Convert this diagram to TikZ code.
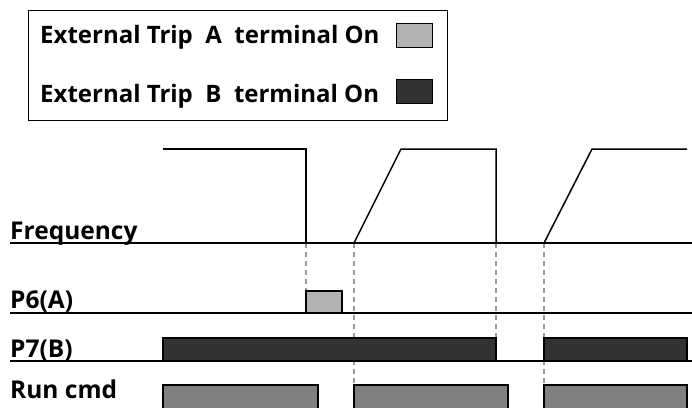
\documentclass[tikz,border=0pt]{standalone}
\usepackage{fontspec}
\setmainfont{Open Sans}
\begin{document}
\begin{tikzpicture}[x=1pt,y=-1pt,
  axis/.style={line width=2pt},
  wave/.style={line width=1.5pt,line join=miter},
  guide/.style={draw=gray!80,line width=1.2pt,dash pattern=on 5pt off 4pt},
  boxA/.style={draw=black,line width=1.3pt,fill=black!30},
  boxB/.style={draw=black,line width=1.3pt,fill=black!80},
  boxR/.style={draw=black,line width=1.3pt,fill=black!50},
  leg/.style={anchor=base west,inner sep=0pt,font=\fontsize{24}{28}\selectfont\bfseries},
  lab/.style={anchor=base west,inner sep=0pt,font=\fontsize{24.5}{28}\selectfont\bfseries}]
\useasboundingbox (0,0) rectangle (692,407);
% legend
\draw[line width=1pt] (28,10) rectangle (447,120);
\node[leg] (la) at (40,43) {External Trip\ \ A\ \ terminal On};
\node[leg] (lb) at (40,102) {External Trip\ \ B\ \ terminal On};
\draw[boxA,line width=1pt] (396,23) rectangle (432,47);
\draw[boxB,line width=1pt] (396,79) rectangle (432,103);
% guides
\draw[guide] (306,243) -- (306,291);
\draw[guide] (354,243) -- (354,385);
\draw[guide] (496,243) -- (496,338);
\draw[guide] (544,243) -- (544,385);
% labels
\node[lab] (freq) at (10,239) {Frequency};
\node[lab] (p6) at (10,308) {P6(A)};
\node[lab] (p7) at (10,357) {P7(B)};
\node[lab] (run) at (10,398) {Run cmd};
% frequency
\draw[wave] (163,149) -- (306,149) -- (306,243);
\draw[wave] (354,243) -- (401,149) -- (496,149) -- (496,243);
\draw[wave] (544,243) -- (592,149) -- (687,149);
% boxes
\draw[boxA] (306,313) rectangle (342,291);
\draw[boxB] (163,361) rectangle (496,338);
\draw[boxB] (544,361) rectangle (687,338);
\draw[boxR] (163,412) |- (318,385) -- (318,412);
\draw[boxR] (354,412) |- (508,385) -- (508,412);
\draw[boxR] (544,412) |- (687,385) -- (687,412);
% axes
\draw[axis] (10,243) -- (692,243);
\draw[axis] (10,313) -- (692,313);
\draw[axis] (10,361) -- (692,361);
\end{tikzpicture}
\end{document}
